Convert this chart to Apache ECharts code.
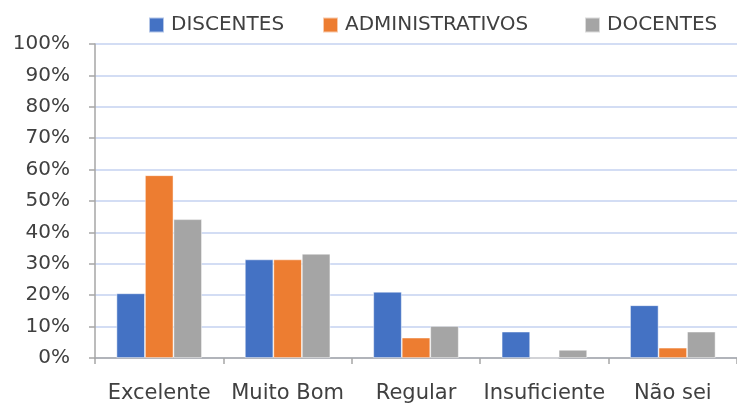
<!DOCTYPE html>
<html><head><meta charset="utf-8">
<script src="https://cdn.jsdelivr.net/npm/echarts@6/dist/echarts.min.js"></script>
<style>html,body{margin:0;padding:0;background:#fff}#c{width:737px;height:405px}</style>
</head><body><div id="c"></div>
<script>
const categories = ['Excelente', 'Muito Bom', 'Regular', 'Insuficiente', 'Não sei'];
const seriesNames = ['DISCENTES', 'ADMINISTRATIVOS', 'DOCENTES'];
const discentes = [20.6, 31.4, 21.1, 8.4, 16.8];
const administrativos = [58.2, 31.4, 6.5, 0, 3.3];
const docentes = [44.2, 33.2, 10.2, 2.6, 8.4];
const colors = ['#4472C4', '#ED7D31', '#A5A5A5'];
const font = 'DejaVu Sans';
const txt = '#404040';
const chart = echarts.init(document.getElementById('c'));
const mk = (name, data, color) => ({
  name, type: 'bar', data, barWidth: 28.5, barGap: '0%',
  itemStyle: { color, borderColor: 'rgba(255,255,255,0.6)', borderWidth: 0.8 }
});
const legendLefts = [143, 317, 579];
const legends = seriesNames.map((n, i) => ({
  top: 10, left: legendLefts[i], itemWidth: 15, itemHeight: 15, icon: 'rect',
  textStyle: { fontFamily: font, fontSize: 20, color: txt, padding: [0, 0, 0, 2] },
  data: [n]
}));
chart.setOption({
  animation: false,
  textStyle: { fontFamily: font },
  legend: legends,
  grid: { left: 95, right: -8, top: 44, bottom: 47, containLabel: false },
  xAxis: {
    type: 'category', data: categories,
    axisLine: { lineStyle: { color: '#A6A6A6', width: 1.5 } },
    axisTick: { show: true, length: 6, lineStyle: { color: '#A6A6A6', width: 1.5 } },
    axisLabel: { fontFamily: font, fontSize: 21, color: txt, margin: 25, interval: 0, hideOverlap: false }
  },
  yAxis: {
    type: 'value', min: 0, max: 100, interval: 10,
    axisLine: { show: true, lineStyle: { color: '#A6A6A6', width: 1.5 } },
    axisTick: { show: true, length: 6, inside: false, lineStyle: { color: '#A6A6A6', width: 1.5 } },
    axisLabel: { fontFamily: font, fontSize: 20, color: txt, margin: 25, formatter: v => v + '%' },
    splitLine: { lineStyle: { color: '#C4D2F0', width: 1.5 } }
  },
  series: [
    mk(seriesNames[0], discentes, colors[0]),
    mk(seriesNames[1], administrativos, colors[1]),
    mk(seriesNames[2], docentes, colors[2])
  ]
});
</script></body></html>
